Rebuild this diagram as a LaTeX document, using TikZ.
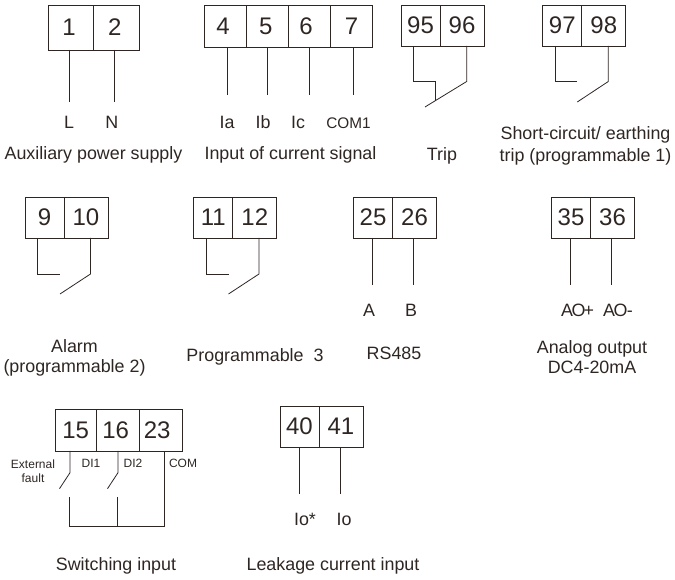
\documentclass[tikz,border=0pt]{standalone}
\usepackage{fontspec}
\setmainfont{Liberation Sans}
\definecolor{inkdark}{HTML}{2E2623}
\tikzset{
  term/.style={draw=inkdark, line width=0.7pt, inner sep=0pt, outer sep=0pt, text=inkdark,
    minimum width=#1*0.75pt, minimum height=41*0.75pt, font=\fontsize{18}{20}\selectfont},
  term/.default=42,
  wire/.style={draw=inkdark, line width=0.6pt},
  lab/.style={inner sep=0pt, text=inkdark, anchor=base, font=\fontsize{13.4}{16.2}\selectfont},
  lablines/.style={inner sep=0pt, text=inkdark, align=center, font=\fontsize{13.4}{15}\selectfont},
  tiny/.style={inner sep=0pt, text=inkdark, align=center, font=\fontsize{9}{10.6}\selectfont}
}
\begin{document}
\begin{tikzpicture}[x=0.75pt, y=-0.75pt]
\useasboundingbox (0,0) rectangle (675,580);

\node[term=45.5, minimum height=45*0.75pt] (t1) at (70.75,27.5) {1\kern2.5pt};
\node[term=45.5, minimum height=45*0.75pt] (t2) at (116.25,27.5) {2\kern2pt};
\coordinate (endl) at (69,102);
\coordinate (endn) at (114.5,102);
\draw[wire] (t1.south -| endl) -- (endl);
\draw[wire] (t2.south -| endn) -- (endn);
\node[lab] (labl) at (69,129) {L};
\node[lab] (labn) at (111.7,129) {N};
\node[lab] (labaux) at (93.5,160) {Auxiliary power supply};

\node[term, minimum height=42*0.75pt] (t4) at (225.5,26) {4\kern3.5pt};
\node[term, minimum height=42*0.75pt] (t5) at (267.5,26) {5\kern2.5pt};
\node[term, minimum height=42*0.75pt] (t6) at (309.5,26) {6\kern5pt};
\node[term, minimum height=42*0.75pt] (t7) at (351.5,26) {7};
\coordinate (endia) at (227,95);
\coordinate (endib) at (267,95);
\coordinate (endic) at (309,95);
\coordinate (endcom) at (353,95);
\draw[wire] (t4.south -| endia) -- (endia);
\draw[wire] (t5.south -| endib) -- (endib);
\draw[wire] (t6.south -| endic) -- (endic);
\draw[wire] (t7.south -| endcom) -- (endcom);
\node[lab] (labia) at (227,129) {Ia};
\node[lab] (labib) at (263,129) {Ib};
\node[lab] (labic) at (298,129) {Ic};
\node[lab, font=\fontsize{11.5}{13}\selectfont] (labcom) at (348.5,129) {COM1};
\node[lab] (labcur) at (290.5,160) {Input of current signal};

\node[term=39] (t95) at (420.5,25.5) {95};
\node[term=44] (t96) at (462,25.5) {96};
\coordinate (tripa) at (413.7,81.5);
\coordinate (tripb) at (435.7,100.7);
\coordinate (tripc) at (466.7,81.5);
\coordinate (tripd) at (425,107);
\draw[wire] (t95.south -| tripa) -- (tripa) -| (tripb);
\draw[wire] (t96.south -| tripc) -- (tripc) -- (tripd);
\node[lab] (labtrip) at (442,161) {Trip};

\node[term=39] (t97) at (562.3,25.5) {97};
\node[term=44] (t98) at (603.8,25.5) {98};
\coordinate (sca) at (555.7,81.5);
\coordinate (scb) at (577.3,81.5);
\coordinate (scc) at (608.3,81.5);
\coordinate (scd) at (577.3,102);
\draw[wire] (t97.south -| sca) -- (sca) -- (scb);
\draw[wire] (t98.south -| scc) -- (scc) -- (scd);
\node[lablines] (labsc) at (585.5,146) {Short-circuit/ earthing\\[1.5pt]trip (programmable 1)};

\node[term=39] (t9) at (44.5,217.5) {9};
\node[term=44] (t10) at (86,217.5) {10};
\coordinate (ala) at (37.7,274);
\coordinate (alb) at (60,274);
\coordinate (alc) at (90.5,274);
\coordinate (ald) at (60,294);
\draw[wire] (t9.south -| ala) -- (ala) -- (alb);
\draw[wire] (t10.south -| alc) -- (alc) -- (ald);
\node[lablines] (labalarm) at (74.5,357.5) {Alarm\\(programmable 2)};

\node[term=39] (t11) at (213.3,217.5) {11};
\node[term=44] (t12) at (254.8,217.5) {12};
\coordinate (pga) at (206.3,274);
\coordinate (pgb) at (228.5,274);
\coordinate (pgc) at (259,274);
\coordinate (pgd) at (228.5,294);
\draw[wire] (t11.south -| pga) -- (pga) -- (pgb);
\draw[wire] (t12.south -| pgc) -- (pgc) -- (pgd);
\node[lab] (labpg) at (255,361.7) {Programmable\ \ 3};

\node[term=39] (t25) at (373,217.5) {25};
\node[term=44] (t26) at (414.5,217.5) {26};
\coordinate (enda) at (372.5,285);
\coordinate (endb) at (413.5,285);
\draw[wire] (t25.south -| enda) -- (enda);
\draw[wire] (t26.south -| endb) -- (endb);
\node[lab] (laba) at (369,316.7) {A};
\node[lab] (labb) at (411,316.7) {B};
\node[lab] (labrs) at (394,360) {RS485};

\node[term=39] (t35) at (571,217.5) {35};
\node[term=44] (t36) at (612.5,217.5) {36};
\coordinate (endaop) at (570.5,285);
\coordinate (endaom) at (611.5,285);
\draw[wire] (t35.south -| endaop) -- (endaop);
\draw[wire] (t36.south -| endaom) -- (endaom);
\node[lab] (labaop) at (577.5,316.7) {A\kern-1pt O\kern-1.5pt+};
\node[lab] (labaom) at (618,316.7) {A\kern-1pt O\kern-0.5pt-};
\node[lablines] (labao) at (592,357.5) {Analog output\\DC4-20mA};

\node[term=41.5, minimum height=42*0.75pt] (t15) at (75.75,430) {15};
\node[term=42.5, minimum height=42*0.75pt] (t16) at (117.75,430) {16\kern3pt};
\node[term=43, minimum height=42*0.75pt] (t23) at (160.5,430) {23\kern5pt};
\coordinate (dia) at (70,472.7);
\coordinate (dib) at (59.5,488.7);
\coordinate (dic) at (118,472.7);
\coordinate (did) at (107.5,488.7);
\coordinate (die) at (69,497);
\coordinate (dif) at (117.5,497);
\coordinate (dig) at (69,526.5);
\coordinate (dih) at (117.5,526.5);
\coordinate (dii) at (164,526.5);
\draw[wire] (t15.south -| dia) -- (dia) -- (dib);
\draw[wire] (t16.south -| dic) -- (dic) -- (did);
\draw[wire] (die) -- (dig) -- (dii) -- (t23.south -| dii);
\draw[wire] (dif) -- (dih);
\node[tiny] (labext) at (33,471) {External\\fault};
\node[tiny] (labdi1) at (91,463) {DI1};
\node[tiny] (labdi2) at (133,463) {DI2};
\node[tiny] (labdcom) at (183,463) {COM};
\node[lab] (labsw) at (116,570.7) {Switching input};

\node[term=39] (t40) at (299.5,426.5) {40};
\node[term=44] (t41) at (341,426.5) {41};
\coordinate (endio) at (299,494.5);
\coordinate (endios) at (340,494.5);
\draw[wire] (t40.south -| endio) -- (endio);
\draw[wire] (t41.south -| endios) -- (endios);
\node[lab] (labios) at (305,526) {Io*};
\node[lab] (labio) at (344,526) {Io};
\node[lab] (lableak) at (333,570.7) {Leakage current input};
\end{tikzpicture}
\end{document}
